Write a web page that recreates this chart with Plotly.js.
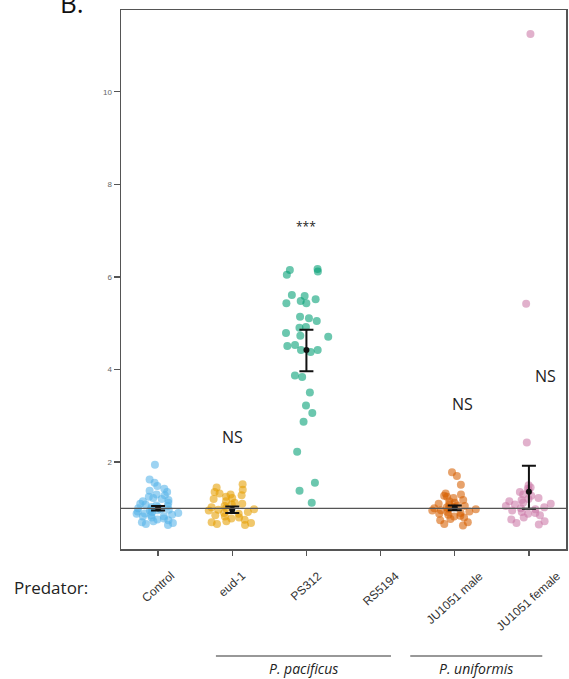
<!DOCTYPE html>
<html>
<head>
<meta charset="utf-8">
<script src="https://cdn.plot.ly/plotly-3.0.1.min.js"></script>
<style>
html,body{margin:0;padding:0;background:#fff;}
#chart{width:569px;height:679px;}
</style>
</head>
<body>
<div id="chart"></div>
<script>
// ---- data ----
const categories = ["Control", "eud-1", "PS312", "RS5194", "JU1051 male", "JU1051 female"];
const colors = ["#56B4E9", "#E69F00", "#009E73", "#999999", "#D55E00", "#CC79A7"];

const controlValues = [1.94, 1.62, 1.55, 1.48, 1.42, 1.38, 1.35, 1.30, 1.28, 1.25, 1.22, 1.20, 1.18, 1.15, 1.12,
  1.10, 1.08, 1.06, 1.05, 1.03, 1.02, 1.00, 0.99, 0.98, 0.97, 0.96, 0.95, 0.93, 0.92, 0.90, 0.89, 0.88,
  0.86, 0.85, 0.83, 0.82, 0.80, 0.78, 0.76, 0.74, 0.72, 0.70, 0.68, 0.66, 0.64];
const eud1Values = [1.52, 1.45, 1.40, 1.35, 1.32, 1.30, 1.28, 1.25, 1.22, 1.20, 1.15, 1.12, 1.10, 1.08, 1.05,
  1.02, 1.00, 0.98, 0.97, 0.95, 0.92, 0.90, 0.88, 0.85, 0.82, 0.80, 0.78, 0.75, 0.72, 0.70, 0.68, 0.66, 0.64];
const ps312Values = [6.15, 6.12, 6.17, 6.05, 5.59, 5.61, 5.52, 5.43, 5.43, 5.48, 5.14, 5.05, 5.11, 4.92, 4.90,
  4.73, 4.79, 4.71, 4.53, 4.51, 4.42, 4.42, 4.38, 3.84, 3.87, 3.50, 3.22, 3.06, 2.87, 2.22, 1.55, 1.38, 1.12];
const rs5194Values = [];
const maleValues = [1.78, 1.70, 1.51, 1.32, 1.30, 1.27, 1.25, 1.22, 1.18, 1.15, 1.12, 1.10, 1.08, 1.06, 1.05,
  1.03, 1.02, 1.00, 0.99, 0.98, 0.96, 0.95, 0.93, 0.92, 0.90, 0.88, 0.86, 0.84, 0.82, 0.80, 0.77, 0.74,
  0.70, 0.66, 0.63];
const femaleValues = [11.25, 5.42, 2.42, 1.50, 1.45, 1.42, 1.38, 1.35, 1.30, 1.27, 1.22, 1.20, 1.18, 1.15,
  1.12, 1.10, 1.08, 1.05, 1.02, 1.00, 0.98, 0.95, 0.92, 0.90, 0.88, 0.85, 0.80, 0.76, 0.72, 0.68, 0.65];

const groupValues = [controlValues, eud1Values, ps312Values, rs5194Values, maleValues, femaleValues];

const means = [1.00, 0.97, 4.42, null, 1.01, 1.36];
const errUp = [0.05, 0.07, 0.44, null, 0.05, 0.56];
const errDown = [0.05, 0.07, 0.46, null, 0.05, 0.37];

const yTickVals = [2, 4, 6, 8, 10];
const baselineValue = 1;

const sigLabels = ["", "NS", "***", "", "NS", "NS"];
const speciesGroups = [
  {name: "P. pacificus", from: "eud-1", to: "RS5194"},
  {name: "P. uniformis", from: "JU1051 male", to: "JU1051 female"}
];

// ---- traces ----
const traces = [];
groupValues.forEach((vals, i) => {
  if (!vals.length) return;
  traces.push({
    type: "box",
    x: vals.map(() => categories[i]),
    y: vals,
    boxpoints: "all",
    jitter: 0.95,
    pointpos: 0,
    fillcolor: "rgba(0,0,0,0)",
    line: {width: 0, color: "rgba(0,0,0,0)"},
    whiskerwidth: 0,
    marker: {color: colors[i], size: 8, opacity: 0.58, line: {width: 0}},
    hoverinfo: "skip",
    showlegend: false
  });
});

traces.push({
  type: "scatter",
  mode: "markers",
  x: categories,
  y: means,
  marker: {color: "#111", size: 6},
  error_y: {type: "data", symmetric: false, array: errUp, arrayminus: errDown,
            color: "#111", thickness: 2, width: 7},
  hoverinfo: "skip",
  showlegend: false
});

// ---- annotations ----
const annotations = [];
categories.forEach((c, i) => {
  annotations.push({
    x: c, xref: "x", y: 0, yref: "paper", yshift: -17,
    text: c, showarrow: false, textangle: -42,
    xanchor: "center", yanchor: "top",
    font: {family: "Liberation Sans, Arial, sans-serif", size: 12, color: "#333"}
  });
});
const sigY = [null, 2.55, 7.1, null, 3.26, 3.87];
const sigX = [null, 1, 2, null, 4.1, 5.23];
sigLabels.forEach((t, i) => {
  if (!t) return;
  annotations.push({
    x: sigX[i], xref: "x", y: sigY[i], yref: "y", text: t, showarrow: false,
    font: {family: "Open Sans, sans-serif", size: t === "***" ? 12 : 16, color: "#222"}
  });
});
annotations.push({
  x: -0.245, xref: "paper", y: -0.072, yref: "paper", text: "Predator:", showarrow: false,
  xanchor: "left", yanchor: "middle",
  font: {family: "Open Sans, sans-serif", size: 17, color: "#222"}
});
annotations.push({
  x: -0.142, xref: "paper", y: 1.013, yref: "paper", text: "B.", showarrow: false,
  xanchor: "left", yanchor: "middle",
  font: {family: "Open Sans, sans-serif", size: 26, color: "#111"}
});

const shapes = [{
  type: "line", xref: "paper", x0: 0, x1: 1, yref: "y", y0: baselineValue, y1: baselineValue,
  line: {color: "#555", width: 1.2}, layer: "above"
}];
const lineOffsets = [[-0.22, 0.14], [-0.6, 0.18]];
speciesGroups.forEach((g, k) => {
  const a = categories.indexOf(g.from) + lineOffsets[k][0];
  const b = categories.indexOf(g.to) + lineOffsets[k][1];
  shapes.push({type: "line", xref: "x", x0: a, x1: b, yref: "paper", y0: -0.1985, y1: -0.1985,
    line: {color: "#333", width: 1.2}});
  annotations.push({
    x: (a + b) / 2, xref: "x", y: -0.2215, yref: "paper", text: "<i>" + g.name + "</i>",
    showarrow: false, xanchor: "center", yanchor: "middle",
    font: {family: "Open Sans, sans-serif", size: 14, color: "#222"}
  });
});

const layout = {
  width: 569, height: 679,
  margin: {l: 121, r: 3, t: 10, b: 130},
  paper_bgcolor: "#fff", plot_bgcolor: "#fff",
  showlegend: false,
  boxmode: "overlay",
  boxgap: 0,
  xaxis: {
    type: "category", categoryorder: "array", categoryarray: categories,
    range: [-0.5, 5.5], showticklabels: false, ticks: "outside", ticklen: 5,
    tickcolor: "#555", tickwidth: 1.2, showline: true, linecolor: "#555", linewidth: 1.5,
    mirror: true, showgrid: false, zeroline: false, fixedrange: true
  },
  yaxis: {
    range: [0.12, 11.77], tickvals: yTickVals, ticktext: yTickVals.map(String),
    ticks: "outside", ticklen: 6, tickcolor: "#555", tickwidth: 1.2,
    tickfont: {family: "Liberation Sans, Arial, sans-serif", size: 8, color: "#666"},
    showline: true, linecolor: "#555", linewidth: 1.5, mirror: true,
    showgrid: false, zeroline: false, fixedrange: true
  },
  annotations: annotations,
  shapes: shapes
};

Plotly.newPlot("chart", traces, layout, {displayModeBar: false, staticPlot: true});
</script>
</body>
</html>
